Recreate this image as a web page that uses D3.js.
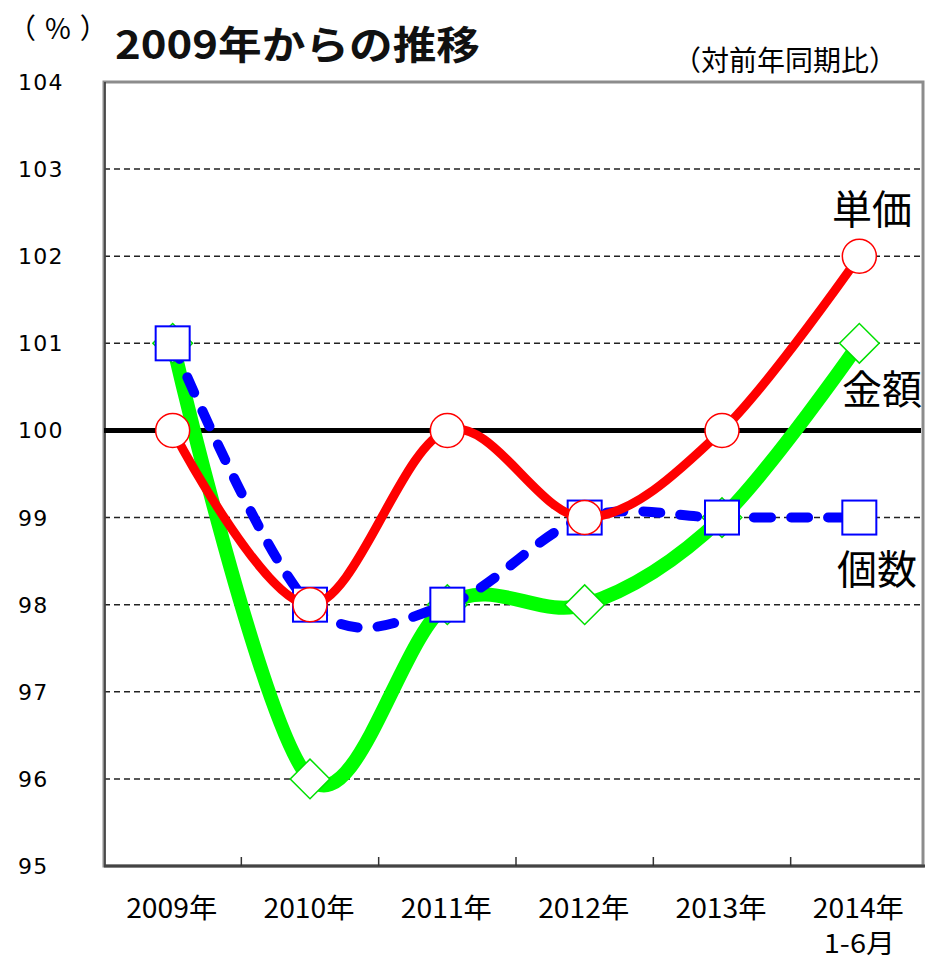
<!DOCTYPE html>
<html lang="ja">
<head>
<meta charset="UTF-8" />
<title>2009年からの推移</title>
<script src="https://d3js.org/d3.v7.min.js"></script>
<style>
  body { margin: 0; background: #fff; }
  svg { display: block; }
</style>
</head>
<body>
<script>
    // data
    var categories = ["2009年", "2010年", "2011年", "2012年", "2013年", "2014年"];
    var subLabels = ["", "", "", "", "", "1-6月"];
    var unitPrice = [100, 98, 100, 99, 100, 102];   // 単価
    var amount = [101, 96, 98, 98, 99, 101];        // 金額
    var quantity = [101, 98, 98, 99, 99, 99];       // 個数
    var yTicks = [95, 96, 97, 98, 99, 100, 101, 102, 103, 104];

    var w = 927, h = 961;
    var plotLeft = 104, plotTop = 82, plotBottom = 866, plotRight = 928, frameRight = 923;
    var jp = "'Noto Sans CJK JP', 'Noto Sans', sans-serif";

    var svg = d3.select("body").append("svg")
        .attr("width", w)
        .attr("height", h);

    var xScale = d3.scaleBand()
        .domain(categories)
        .range([plotLeft, plotRight])
        .paddingInner(0);

    var yScale = d3.scaleLinear()
        .domain([95, 104])
        .range([plotBottom, plotTop]);

    function cx(i) { return xScale(categories[i]) + xScale.bandwidth() / 2; }

    // gridlines
    svg.selectAll(".grid")
        .data(yTicks.filter(function(d) { return d > 95 && d < 104 && d !== 100; }))
        .enter().append("line")
        .attr("x1", plotLeft).attr("x2", frameRight)
        .attr("y1", function(d) { return yScale(d); })
        .attr("y2", function(d) { return yScale(d); })
        .attr("stroke", "#222")
        .attr("stroke-width", 1.5)
        .attr("stroke-dasharray", "6,4");

    // frame
    svg.append("rect")
        .attr("x", plotLeft).attr("y", plotTop)
        .attr("width", frameRight - plotLeft).attr("height", plotBottom - plotTop)
        .attr("fill", "none")
        .attr("stroke", "#8c8c8c")
        .attr("stroke-width", 3);

    // left axis line
    svg.append("line")
        .attr("x1", plotLeft + 1).attr("x2", plotLeft + 1)
        .attr("y1", plotTop).attr("y2", plotBottom)
        .attr("stroke", "#333").attr("stroke-width", 1.5);

    // bottom axis line
    svg.append("line")
        .attr("x1", plotLeft).attr("x2", frameRight + 2)
        .attr("y1", plotBottom).attr("y2", plotBottom)
        .attr("stroke", "#444").attr("stroke-width", 3);

    // x ticks at category boundaries
    svg.selectAll(".xtick")
        .data(categories.slice(1))
        .enter().append("line")
        .attr("x1", function(d) { return xScale(d); })
        .attr("x2", function(d) { return xScale(d); })
        .attr("y1", plotBottom).attr("y2", plotBottom - 9)
        .attr("stroke", "#333").attr("stroke-width", 1.5);

    // 100 baseline
    svg.append("line")
        .attr("x1", plotLeft).attr("x2", frameRight - 2)
        .attr("y1", yScale(100)).attr("y2", yScale(100))
        .attr("stroke", "#000").attr("stroke-width", 5);

    // y labels
    svg.selectAll(".ylab")
        .data(yTicks)
        .enter().append("text")
        .attr("x", 18)
        .attr("y", function(d) { return yScale(d) + 8; })
        .attr("font-family", "'DejaVu Sans', Verdana, sans-serif")
        .attr("font-size", 22)
        .attr("letter-spacing", 1.2)
        .attr("fill", "#000")
        .text(function(d) { return d; });

    // x labels
    svg.selectAll(".xlab")
        .data(categories)
        .enter().append("text")
        .attr("x", function(d) { return xScale(d) + xScale.bandwidth() / 2 - 1; })
        .attr("y", 918)
        .attr("text-anchor", "middle")
        .attr("font-family", jp)
        .attr("font-size", 27)
        .attr("textLength", 91)
        .attr("lengthAdjust", "spacingAndGlyphs")
        .attr("fill", "#000")
        .text(function(d) { return d; });

    svg.selectAll(".xsub")
        .data(subLabels.filter(function(d) { return d !== ""; }))
        .enter().append("text")
        .attr("x", cx(5))
        .attr("y", 953)
        .attr("text-anchor", "middle")
        .attr("font-family", jp)
        .attr("font-size", 26)
        .attr("textLength", 71)
        .attr("lengthAdjust", "spacingAndGlyphs")
        .attr("fill", "#000")
        .text(function(d) { return d; });

    // lines
    var line = d3.line()
        .x(function(d, i) { return cx(i); })
        .y(function(d) { return yScale(d); })
        .curve(d3.curveCardinal.tension(0));

    // 金額 (green)
    svg.append("path")
        .datum(amount)
        .attr("d", line)
        .attr("fill", "none")
        .attr("stroke", "#00ff00")
        .attr("stroke-width", 14);

    svg.selectAll(".diamond")
        .data(amount)
        .enter().append("path")
        .attr("d", d3.symbol().type(d3.symbolSquare).size(28 * 28))
        .attr("transform", function(d, i) { return "translate(" + cx(i) + "," + yScale(d) + ") rotate(45)"; })
        .attr("fill", "#fff")
        .attr("stroke", "#00e000")
        .attr("stroke-width", 1.5);

    // 個数 (blue dashed)
    svg.append("path")
        .datum(quantity)
        .attr("d", line)
        .attr("fill", "none")
        .attr("stroke", "#0000ff")
        .attr("stroke-width", 10)
        .attr("stroke-linecap", "round")
        .attr("stroke-dasharray", "17,20");

    svg.selectAll(".square")
        .data(quantity)
        .enter().append("rect")
        .attr("x", function(d, i) { return cx(i) - 17; })
        .attr("y", function(d) { return yScale(d) - 17; })
        .attr("width", 34).attr("height", 34)
        .attr("fill", "#fff")
        .attr("stroke", "#0000ff")
        .attr("stroke-width", 2);

    // 単価 (red)
    svg.append("path")
        .datum(unitPrice)
        .attr("d", line)
        .attr("fill", "none")
        .attr("stroke", "#ff0000")
        .attr("stroke-width", 9);

    svg.selectAll(".circle")
        .data(unitPrice)
        .enter().append("circle")
        .attr("cx", function(d, i) { return cx(i); })
        .attr("cy", function(d) { return yScale(d); })
        .attr("r", 17)
        .attr("fill", "#fff")
        .attr("stroke", "#ff0000")
        .attr("stroke-width", 1.5);

    // series labels
    var seriesLabels = [
        { text: "単価", x: 832, y: 224 },
        { text: "金額", x: 842, y: 404 },
        { text: "個数", x: 837, y: 584 }
    ];
    svg.selectAll(".slab")
        .data(seriesLabels)
        .enter().append("text")
        .attr("x", function(d) { return d.x; })
        .attr("y", function(d) { return d.y; })
        .attr("font-family", jp)
        .attr("font-size", 40)
        .attr("fill", "#000")
        .text(function(d) { return d.text; });

    // titles
    svg.append("text")
        .attr("x", 115).attr("y", 59)
        .attr("font-family", jp)
        .attr("font-weight", "bold")
        .attr("font-size", 39)
        .attr("textLength", 365)
        .attr("lengthAdjust", "spacingAndGlyphs")
        .attr("fill", "#111")
        .text("2009年からの推移");

    svg.append("text")
        .attr("x", 8).attr("y", 39)
        .attr("font-family", jp)
        .attr("font-size", 28)
        .attr("letter-spacing", 9)
        .attr("fill", "#000")
        .text("（%）");

    svg.append("text")
        .attr("x", 673).attr("y", 71)
        .attr("font-family", jp)
        .attr("font-size", 28)
        .attr("textLength", 224)
        .attr("lengthAdjust", "spacing")
        .attr("fill", "#000")
        .text("（対前年同期比）");
</script>
</body>
</html>
